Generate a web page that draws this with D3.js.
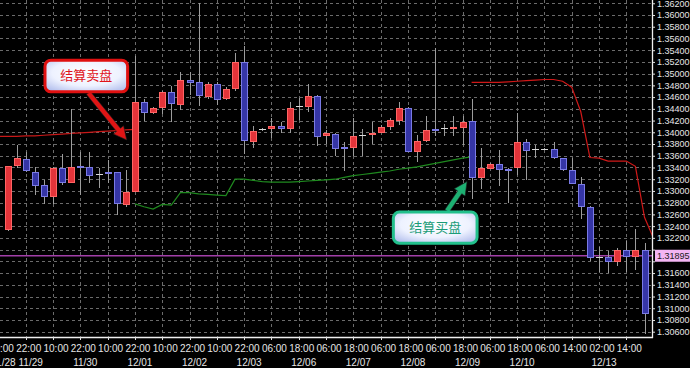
<!DOCTYPE html>
<html><head><meta charset="utf-8">
<script src="https://cdn.jsdelivr.net/npm/d3@7"></script>
<style>html,body{margin:0;padding:0;background:#000;overflow:hidden}</style>
</head><body>
<svg id="c" width="690" height="368"></svg>
<script>
// ---------- DATA ----------
const opens  = [1.3235,1.3344,1.3354,1.3333,1.3310,1.3292,1.3339,1.3315,1.3343,1.3341,1.3329,1.3332,1.3332,1.3279,1.3300,1.3452,1.3434,1.3443,1.3468,1.3449,1.3490,1.3485,1.3462,1.3483,1.3458,1.3475,1.3520,1.3386,1.3405,1.3406,1.3410,1.3407,1.3444,1.3445,1.3462,1.3394,1.3397,1.3375,1.3376,1.3395,1.3398,1.3400,1.3410,1.3421,1.3442,1.3369,1.3387,1.3406,1.3408,1.3408,1.3410,1.3419,1.3323,1.3340,1.3346,1.3338,1.3340,1.3383,1.3371,1.3371,1.3371,1.3356,1.3336,1.3312,1.3273,1.3188,1.3188,1.3181,1.3199,1.3188,1.3199];
const highs  = [1.3343,1.3378,1.3367,1.3340,1.3319,1.3341,1.3363,1.3439,1.3367,1.3367,1.3339,1.3353,1.3333,1.3335,1.3530,1.3456,1.3443,1.3470,1.3479,1.3503,1.3503,1.3620,1.3486,1.3485,1.3478,1.3535,1.3547,1.3410,1.3407,1.3425,1.3418,1.3451,1.3459,1.3483,1.3463,1.3404,1.3399,1.3384,1.3425,1.3405,1.3417,1.3413,1.3425,1.3452,1.3443,1.3395,1.3427,1.3544,1.3414,1.3428,1.3428,1.3456,1.3374,1.3348,1.3369,1.3339,1.3433,1.3389,1.3378,1.3373,1.3384,1.3357,1.3357,1.3323,1.3274,1.3205,1.3197,1.3202,1.3214,1.3235,1.3211];
const lows   = [1.3232,1.3339,1.3333,1.3293,1.3278,1.3278,1.3310,1.3313,1.3293,1.3313,1.3305,1.3313,1.3259,1.3273,1.3299,1.3420,1.3432,1.3431,1.3417,1.3438,1.3464,1.3445,1.3456,1.3447,1.3455,1.3471,1.3363,1.3374,1.3403,1.3390,1.3398,1.3399,1.3421,1.3435,1.3376,1.3380,1.3360,1.3334,1.3360,1.3360,1.3380,1.3399,1.3404,1.3412,1.3368,1.3349,1.3384,1.3393,1.3393,1.3393,1.3378,1.3287,1.3303,1.3339,1.3308,1.3279,1.3327,1.3318,1.3356,1.3369,1.3354,1.3334,1.3312,1.3252,1.3180,1.3162,1.3160,1.3172,1.3162,1.3166,1.3056];
const closes = [1.3342,1.3356,1.3335,1.3311,1.3292,1.3339,1.3315,1.3341,1.3342,1.3328,1.3329,1.3331,1.3279,1.3299,1.3452,1.3435,1.3441,1.3468,1.3449,1.3490,1.3487,1.3462,1.3483,1.3458,1.3473,1.3520,1.3387,1.3403,1.3405,1.3410,1.3406,1.3441,1.3444,1.3462,1.3394,1.3398,1.3373,1.3374,1.3394,1.3395,1.3399,1.3409,1.3421,1.3442,1.3369,1.3386,1.3404,1.3405,1.3408,1.3409,1.3418,1.3323,1.3339,1.3346,1.3337,1.3337,1.3383,1.3369,1.3371,1.3371,1.3357,1.3337,1.3313,1.3274,1.3188,1.3188,1.3181,1.3199,1.3188,1.3199,1.3092];

// settlement lines (values per bar, starting at the given bar)
const sellLeftStart = -1;
const sellLeft = [1.3393,1.3393,1.3393,1.3394,1.3394,1.3395,1.3396,1.3397,1.3398,1.3399,1.3400,1.3401,1.3402,1.3403,1.3404,1.3405];
const buyStart = 14;
const buyLine = [1.3278,1.3273,1.3269,1.3277,1.3276,1.3297,1.3297,1.3295,1.3294,1.3293,1.3292,1.3320,1.3320,1.3318,1.3316,1.3315,1.3315,1.3315,1.3316,1.3317,1.3318,1.3319,1.3320,1.3323,1.3326,1.3328,1.3330,1.3332,1.3334,1.3337,1.3339,1.3341,1.3344,1.3347,1.3350,1.3353,1.3356,1.3358];
const sellRightStart = 51;
const sellRight = [1.3485,1.3485,1.3485,1.3485,1.3486,1.3487,1.3488,1.3489,1.3490,1.3490,1.3487,1.3477,1.3435,1.3357,1.3356,1.3351,1.3351,1.3351,1.3342,1.3255,1.3219];

const currentPrice = 1.31895;
const priceTicks = [1.362,1.360,1.358,1.356,1.354,1.352,1.350,1.348,1.346,1.344,1.342,1.340,1.338,1.336,1.334,1.332,1.330,1.328,1.326,1.324,1.322,1.320,1.318,1.316,1.314,1.312,1.310,1.308,1.306];

const timeBars   = [-1,2,5,8,11,14,17,20,23,26,29,32,35,38,41,44,47,50,53,56,59,62,65,68];
const timeLabels = ["10:00","22:00","10:00","22:00","10:00","22:00","10:00","22:00","10:00","22:00","06:00","18:00","06:00","18:00","06:00","18:00","06:00","18:00","06:00","18:00","06:00","14:00","02:00","14:00"];
const dateBars   = [-1,2,8,14,20,26,32,38,44,50,56,65];
const dateLabels = ["11/28","11/29","11/30","12/01","12/02","12/03","12/06","12/07","12/08","12/09","12/10","12/13"];

const sellNoteText = "结算卖盘";
const buyNoteText  = "结算买盘";

// ---------- CHART ----------
const W = 690, H = 368;
const plotRight = 652, plotBottom = 337;
const svg = d3.select("#c");
svg.append("rect").attr("width", W).attr("height", H).attr("fill", "#000");

const x = d3.scaleLinear().domain([0, 70]).range([7.5, 644.5]);
const y = d3.scaleLinear().domain([1.306, 1.360]).range([331.7, 15]);
const fmt = d3.format(".5f");

const defs = svg.append("defs");
defs.append("clipPath").attr("id", "plot").append("rect")
  .attr("x", 0).attr("y", 0).attr("width", plotRight).attr("height", plotBottom);
const grad = defs.append("radialGradient").attr("id", "boxg").attr("cx", "50%").attr("cy", "40%").attr("r", "75%");
grad.append("stop").attr("offset", "0%").attr("stop-color", "#ffffff");
grad.append("stop").attr("offset", "55%").attr("stop-color", "#eef2ff");
grad.append("stop").attr("offset", "100%").attr("stop-color", "#a9b6ea");

const plot = svg.append("g").attr("clip-path", "url(#plot)");

// grid
const gridColor = "#6b6b6b";
plot.append("g").selectAll("line").data(priceTicks).join("line")
  .attr("x1", 0).attr("x2", plotRight)
  .attr("y1", d => Math.round(y(d)) + 0.5).attr("y2", d => Math.round(y(d)) + 0.5)
  .attr("stroke", gridColor).attr("stroke-dasharray", "3,3");
plot.append("g").selectAll("line").data(timeBars).join("line")
  .attr("x1", d => Math.round(x(d)) + 0.5).attr("x2", d => Math.round(x(d)) + 0.5)
  .attr("y1", 0).attr("y2", plotBottom)
  .attr("stroke", gridColor).attr("stroke-dasharray", "3,3");

// current price line
plot.append("line").attr("x1", 0).attr("x2", plotRight)
  .attr("y1", y(currentPrice)).attr("y2", y(currentPrice))
  .attr("stroke", "#a23fa8").attr("stroke-width", 1.5);

// settlement lines
function seriesPoints(start, vals) { return vals.map((v, k) => [start + k, v]); }
const line = d3.line().x(d => x(d[0])).y(d => y(d[1]));
plot.append("path").datum(seriesPoints(sellLeftStart, sellLeft)).attr("d", line)
  .attr("fill", "none").attr("stroke", "#c81818").attr("stroke-width", 1.2);
plot.append("path").datum(seriesPoints(sellRightStart, sellRight)).attr("d", line)
  .attr("fill", "none").attr("stroke", "#d01818").attr("stroke-width", 1.2);
plot.append("path").datum(seriesPoints(buyStart, buyLine)).attr("d", line)
  .attr("fill", "none").attr("stroke", "#1f8a1f").attr("stroke-width", 1.2);

// candles
const candles = opens.map((o, i) => ({i, o, h: highs[i], l: lows[i], c: closes[i]}));
const cg = plot.append("g").attr("shape-rendering", "crispEdges");
const bw = 6;
candles.forEach(d => {
  const cx = Math.round(x(d.i));
  cg.append("line").attr("x1", cx + 0.5).attr("x2", cx + 0.5)
    .attr("y1", y(d.h)).attr("y2", y(d.l)).attr("stroke", "#9c9c9c");
  const diff = d.c - d.o;
  if (Math.abs(diff) < 0.00006) {
    cg.append("line").attr("x1", cx - bw / 2).attr("x2", cx + bw / 2 + 1)
      .attr("y1", Math.round(y(d.o)) + 0.5).attr("y2", Math.round(y(d.o)) + 0.5)
      .attr("stroke", "#d8d8d8");
  } else {
    const top = y(Math.max(d.o, d.c)), bot = y(Math.min(d.o, d.c));
    const up = diff > 0;
    cg.append("rect").attr("x", cx - bw / 2 + 0.5).attr("y", Math.round(top) + 0.5)
      .attr("width", bw).attr("height", Math.max(1, Math.round(bot - top)))
      .attr("fill", up ? "#e3343a" : "#3535a6")
      .attr("stroke", up ? "#ff6464" : "#7a7ae4");
  }
});

// axes
const axisR = svg.append("g").attr("transform", `translate(${plotRight},0)`)
  .call(d3.axisRight(y).tickValues(priceTicks)
    .tickFormat(d => Math.abs(d - currentPrice) < 0.0012 ? "" : fmt(d))
    .tickSize(3).tickPadding(2));
axisR.select(".domain").remove();
axisR.selectAll("line").attr("stroke", "#e0e0e0");
axisR.selectAll("text").attr("fill", "#e6e6e6").attr("font-family", "Liberation Sans, Arial, sans-serif").attr("font-size", 9);

svg.append("line").attr("x1", plotRight + 0.5).attr("x2", plotRight + 0.5).attr("y1", 0).attr("y2", plotBottom + 1)
  .attr("stroke", "#f0f0f0").attr("stroke-width", 1.3);
svg.append("line").attr("x1", 0).attr("x2", plotRight + 1).attr("y1", plotBottom + 0.5).attr("y2", plotBottom + 0.5)
  .attr("stroke", "#f0f0f0").attr("stroke-width", 1.5);

// current price label
const cpY = y(currentPrice);
svg.append("rect").attr("x", plotRight + 3).attr("y", cpY - 6).attr("width", 35).attr("height", 12)
  .attr("fill", "#f3b5f3");
svg.append("text").attr("x", plotRight + 5).attr("y", cpY + 3.2).text(fmt(currentPrice))
  .attr("fill", "#202020").attr("font-family", "Liberation Sans, Arial, sans-serif").attr("font-size", 9);

// bottom ticks & labels
const bottom = svg.append("g");
bottom.selectAll("line").data(timeBars).join("line")
  .attr("x1", d => Math.round(x(d)) + 0.5).attr("x2", d => Math.round(x(d)) + 0.5)
  .attr("y1", plotBottom).attr("y2", plotBottom + 3).attr("stroke", "#e0e0e0");
bottom.selectAll("text.t").data(timeLabels).join("text").attr("class", "t")
  .attr("x", (d, k) => x(timeBars[k]) + 3).attr("y", 352)
  .attr("text-anchor", "middle").attr("fill", "#e6e6e6")
  .attr("font-family", "Liberation Sans, Arial, sans-serif").attr("font-size", 10).text(d => d);
bottom.selectAll("text.d").data(dateLabels).join("text").attr("class", "d")
  .attr("x", (d, k) => x(dateBars[k]) + 5).attr("y", 366)
  .attr("text-anchor", "middle").attr("fill", "#e6e6e6")
  .attr("font-family", "Liberation Sans, Arial, sans-serif").attr("font-size", 10).text(d => d);

// annotations
function arrowPts(x1, y1, x2, y2, w, hl, hw) {
  const dx = x2 - x1, dy = y2 - y1, L = Math.hypot(dx, dy);
  const ux = dx / L, uy = dy / L, nx = -uy, ny = ux;
  const bx = x2 - ux * hl, by = y2 - uy * hl;
  return [[x1 + nx * w / 2, y1 + ny * w / 2], [bx + nx * w / 2, by + ny * w / 2], [bx + nx * hw / 2, by + ny * hw / 2],
          [x2, y2], [bx - nx * hw / 2, by - ny * hw / 2], [bx - nx * w / 2, by - ny * w / 2], [x1 - nx * w / 2, y1 - ny * w / 2]];
}
function note(b0, b1, pTop, pBot, text, stroke, color, arrow, arrowColor) {
  const g = svg.append("g");
  const ap = arrowPts(x(arrow[0]), y(arrow[1]), x(arrow[2]), y(arrow[3]), 5, 13, 13);
  g.append("polygon").attr("points", ap.map(p => p.join(",")).join(" "))
    .attr("fill", arrowColor).attr("stroke", "#222").attr("stroke-width", 0.6);
  g.append("rect").attr("x", x(b0)).attr("y", y(pTop)).attr("width", x(b1) - x(b0)).attr("height", y(pBot) - y(pTop))
    .attr("rx", 6).attr("fill", "url(#boxg)").attr("stroke", stroke).attr("stroke-width", 3);
  g.append("text").attr("x", (x(b0) + x(b1)) / 2).attr("y", (y(pTop) + y(pBot)) / 2 + 4.5)
    .attr("text-anchor", "middle").attr("fill", color)
    .attr("font-family", "Noto Sans CJK SC, sans-serif").attr("font-size", 13).text(text);
}
note(4.12, 13.2, 1.3523, 1.3469, sellNoteText, "#e01010", "#e0141c", [8.9, 1.3467, 13.1, 1.3387], "#e01515");
note(42.4, 51.6, 1.3264, 1.3211, buyNoteText, "#22c08c", "#1b9c78", [48.3, 1.3266, 50.5, 1.3316], "#1db072");
</script>
</body></html>
